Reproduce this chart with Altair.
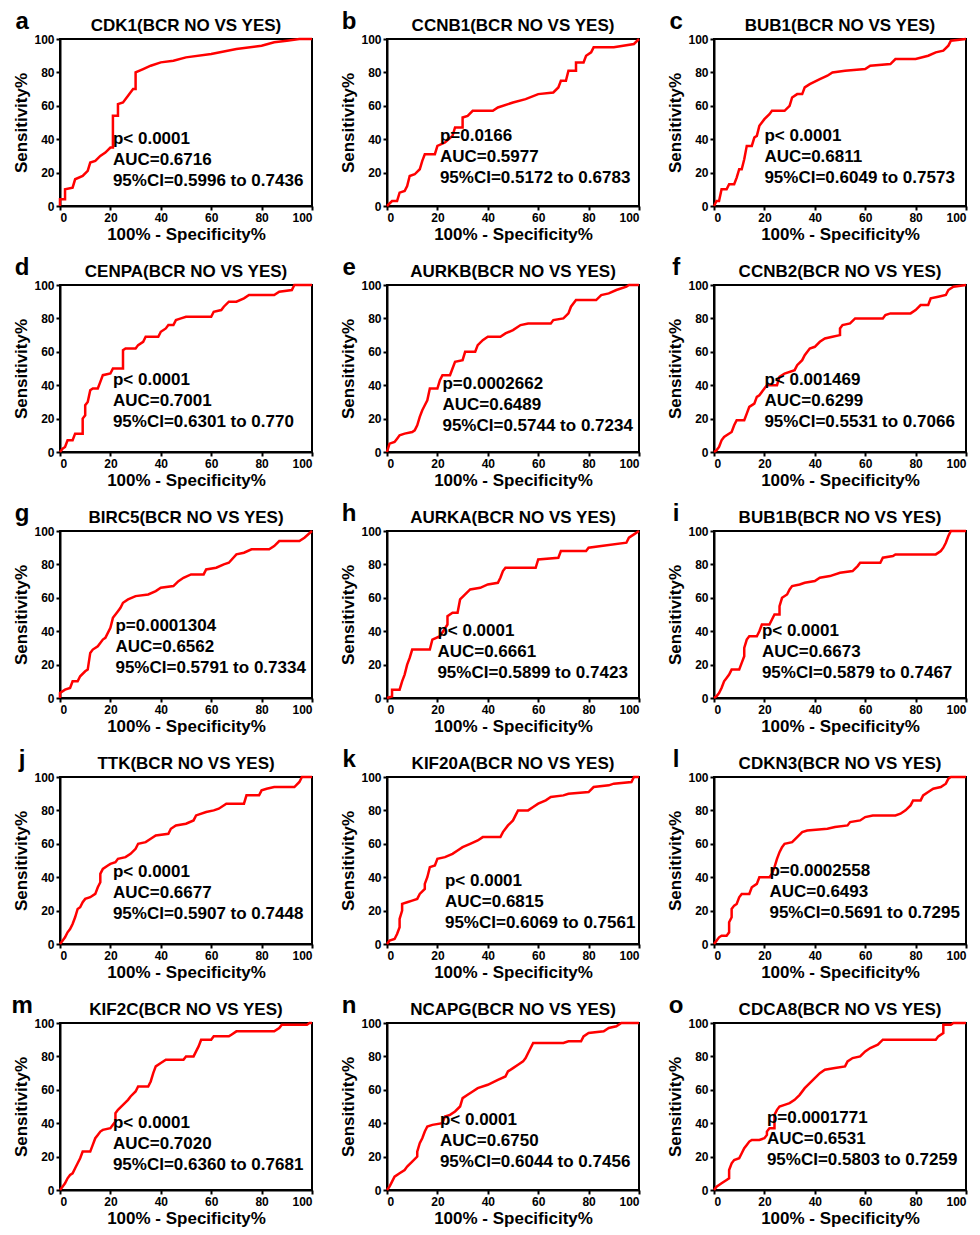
import altair as alt
import pandas as pd

FONT = "Liberation Sans"
RED = "#ff0000"

letters = list("abcdefghijklmno")
genes = ["CDK1", "CCNB1", "BUB1", "CENPA", "AURKB", "CCNB2", "BIRC5", "AURKA",
         "BUB1B", "TTK", "KIF20A", "CDKN3", "KIF2C", "NCAPG", "CDCA8"]
p_text = ["p< 0.0001", "p=0.0166", "p< 0.0001", "p< 0.0001", "p=0.0002662",
          "p< 0.001469", "p=0.0001304", "p< 0.0001", "p< 0.0001", "p< 0.0001",
          "p< 0.0001", "p=0.0002558", "p< 0.0001", "p< 0.0001", "p=0.0001771"]
auc_text = ["0.6716", "0.5977", "0.6811", "0.7001", "0.6489", "0.6299", "0.6562",
            "0.6661", "0.6673", "0.6677", "0.6815", "0.6493", "0.7020", "0.6750", "0.6531"]
ci_text = ["0.5996 to 0.7436", "0.5172 to 0.6783", "0.6049 to 0.7573", "0.6301 to 0.770",
           "0.5744 to 0.7234", "0.5531 to 0.7066", "0.5791 to 0.7334", "0.5899 to 0.7423",
           "0.5879 to 0.7467", "0.5907 to 0.7448", "0.6069 to 0.7561", "0.5691 to 0.7295",
           "0.6360 to 0.7681", "0.6044 to 0.7456", "0.5803 to 0.7259"]

# where the stats block starts, in axis units (x of left edge, y of first line)
note_x = [21, 21, 20, 21, 22, 20, 22, 20, 19, 21, 23, 22, 21, 21, 21]
note_y = [40, 42, 42, 43, 41, 43, 43, 40, 40, 43, 38, 44, 40, 42, 43]

# ROC curves, (100% - specificity, sensitivity)
cdk1 = [(0, 0), (0, 4), (2, 4), (2, 10), (5, 11), (6, 16), (9, 18), (11, 21), (12, 26), (14, 27),
        (16, 30), (18, 32), (20, 35), (21, 35), (21, 54), (23, 54), (23, 61), (25, 62), (27, 66),
        (29, 70), (30, 70), (30, 80), (33, 82), (36, 84), (40, 86), (45, 87), (50, 89), (60, 91),
        (70, 94), (80, 96), (85, 98), (90, 99), (95, 100), (100, 100)]
ccnb1 = [(0, 0), (2, 3), (4, 3), (5, 8), (7, 9), (8, 12), (9, 18), (11, 19), (13, 22), (14, 27),
         (15, 31), (19, 31), (20, 36), (23, 38), (26, 42), (27, 47), (30, 47), (30, 53), (32, 54),
         (34, 57), (42, 57), (44, 59), (50, 62), (55, 64), (60, 67), (66, 68), (68, 71), (69, 75),
         (71, 75), (72, 81), (75, 81), (75, 86), (78, 86), (79, 90), (81, 92), (82, 95), (90, 95),
         (98, 97), (100, 100)]
bub1 = [(0, 0), (1, 3), (2, 3), (3, 10), (5, 10), (6, 13), (8, 13), (9, 17), (10, 22), (11, 22),
        (12, 28), (13, 36), (15, 36), (16, 41), (17, 42), (18, 48), (19, 50), (20, 52), (22, 55),
        (23, 57), (28, 57), (30, 60), (31, 65), (33, 67), (35, 67), (36, 71), (38, 73), (42, 76),
        (45, 78), (47, 80), (52, 81), (60, 82), (62, 84), (70, 85), (72, 88), (80, 88), (85, 90),
        (88, 92), (91, 93), (93, 96), (94, 99), (100, 100)]
cenpa = [(0, 0), (1, 2), (2, 3), (3, 7), (5, 7), (6, 11), (9, 11), (9, 20), (10, 22), (10, 28),
         (11, 30), (12, 37), (13, 38), (15, 38), (16, 42), (17, 46), (20, 47), (21, 50), (25, 50),
         (25, 61), (26, 62), (30, 62), (31, 64), (33, 66), (34, 69), (39, 69), (40, 72), (42, 74),
         (43, 76), (45, 76), (46, 79), (48, 80), (50, 81), (60, 81), (61, 84), (64, 85), (65, 87),
         (67, 90), (70, 90), (73, 92), (75, 94), (85, 94), (87, 96), (92, 97), (93, 100), (100, 100)]
aurkb = [(0, 0), (1, 5), (3, 6), (4, 8), (5, 10), (7, 11), (10, 12), (11, 13), (12, 16), (13, 21),
         (14, 25), (15, 28), (16, 31), (17, 38), (20, 38), (21, 43), (22, 46), (25, 46), (26, 50),
         (27, 54), (30, 55), (31, 60), (35, 60), (36, 64), (38, 67), (40, 69), (45, 69), (47, 71),
         (50, 73), (53, 76), (56, 77), (65, 77), (66, 79), (70, 80), (72, 83), (73, 87), (75, 91),
         (83, 91), (85, 94), (88, 95), (91, 97), (95, 99), (96, 100), (100, 100)]
ccnb2 = [(0, 0), (1, 1), (2, 3), (3, 7), (4, 9), (5, 10), (7, 12), (8, 16), (9, 19), (12, 19),
         (13, 23), (14, 27), (16, 29), (17, 33), (18, 34), (20, 38), (21, 40), (25, 40), (26, 45),
         (28, 47), (32, 49), (33, 52), (35, 55), (36, 58), (38, 62), (40, 63), (42, 66), (44, 68),
         (47, 69), (50, 70), (50, 74), (51, 76), (54, 77), (56, 80), (67, 80), (68, 82), (70, 83),
         (78, 83), (80, 85), (82, 88), (85, 88), (86, 92), (89, 93), (92, 94), (93, 97), (95, 99),
         (100, 100)]
birc5 = [(0, 0), (0, 3), (2, 5), (4, 6), (5, 10), (7, 10), (8, 13), (10, 16), (11, 17), (12, 27),
         (13, 29), (15, 31), (17, 35), (18, 36), (20, 42), (21, 48), (23, 52), (24, 54), (25, 57),
         (27, 59), (30, 61), (35, 62), (38, 64), (40, 66), (45, 67), (47, 70), (49, 72), (52, 74),
         (57, 74), (58, 77), (62, 78), (65, 80), (67, 81), (70, 86), (73, 87), (76, 89), (83, 89),
         (85, 91), (87, 94), (95, 94), (97, 96), (100, 100)]
aurka = [(0, 0), (2, 1), (2, 5), (5, 5), (6, 10), (7, 14), (8, 20), (9, 24), (10, 29), (17, 29),
         (18, 35), (21, 37), (24, 44), (24, 49), (26, 51), (28, 51), (29, 59), (31, 62), (33, 65),
         (37, 66), (40, 68), (44, 69), (45, 72), (46, 76), (47, 78), (59, 78), (60, 83), (68, 84),
         (69, 88), (79, 88), (80, 90), (85, 91), (95, 93), (96, 96), (98, 98), (100, 100)]
bub1b = [(0, 0), (1, 1), (2, 3), (3, 6), (4, 10), (5, 12), (6, 14), (7, 17), (10, 17), (11, 21),
         (12, 25), (12, 30), (13, 35), (14, 37), (17, 37), (18, 40), (19, 44), (22, 44), (23, 47),
         (24, 50), (26, 50), (26, 55), (27, 60), (29, 62), (30, 65), (31, 67), (34, 68), (36, 69),
         (40, 70), (42, 72), (46, 73), (50, 75), (55, 76), (57, 79), (58, 81), (66, 81), (67, 84),
         (71, 85), (72, 86), (88, 86), (90, 88), (91, 90), (92, 93), (93, 97), (94, 100), (100, 100)]
ttk = [(0, 0), (1, 2), (2, 4), (3, 7), (4, 9), (5, 12), (6, 16), (7, 21), (8, 22), (9, 25),
       (10, 27), (12, 28), (14, 30), (15, 34), (16, 37), (16, 42), (17, 45), (19, 47), (20, 48),
       (22, 49), (23, 51), (26, 52), (28, 54), (30, 57), (31, 60), (34, 61), (36, 63), (38, 65),
       (43, 66), (44, 69), (46, 71), (50, 72), (53, 74), (54, 77), (58, 79), (61, 80), (63, 81),
       (66, 84), (73, 84), (74, 89), (79, 89), (80, 92), (82, 93), (85, 94), (93, 94), (95, 97),
       (96, 100), (100, 100)]
kif20a = [(0, 0), (1, 2), (3, 3), (4, 6), (5, 10), (5, 15), (6, 20), (6, 24), (8, 25), (10, 26),
          (12, 27), (13, 30), (15, 33), (15, 36), (16, 40), (17, 46), (19, 47), (20, 51), (23, 52),
          (26, 54), (28, 56), (30, 58), (33, 60), (36, 62), (38, 64), (45, 64), (46, 67), (48, 71),
          (50, 74), (51, 77), (52, 80), (56, 80), (58, 82), (60, 84), (63, 86), (65, 88), (70, 89),
          (72, 90), (80, 91), (82, 94), (88, 95), (90, 96), (97, 97), (98, 100), (100, 100)]
cdkn3 = [(0, 0), (1, 2), (2, 4), (3, 5), (5, 5), (6, 7), (6, 13), (7, 16), (7, 21), (8, 23),
         (9, 24), (10, 28), (11, 30), (14, 30), (15, 34), (17, 36), (18, 40), (22, 40), (23, 42),
         (24, 46), (25, 51), (26, 55), (27, 58), (28, 60), (31, 61), (33, 64), (35, 67), (37, 68),
         (45, 69), (48, 70), (53, 71), (54, 73), (58, 74), (60, 76), (63, 77), (72, 77), (74, 78),
         (76, 80), (78, 83), (79, 86), (82, 86), (83, 89), (85, 91), (87, 93), (90, 94), (92, 96),
         (93, 99), (94, 100), (100, 100)]
kif2c = [(0, 0), (1, 2), (2, 4), (3, 7), (4, 9), (5, 10), (6, 13), (7, 16), (8, 19), (9, 23),
         (12, 23), (13, 27), (14, 31), (15, 33), (16, 35), (17, 36), (20, 37), (21, 39), (22, 41),
         (22, 46), (23, 48), (25, 51), (27, 54), (28, 56), (30, 59), (31, 62), (35, 62), (36, 65),
         (37, 70), (38, 74), (40, 76), (42, 78), (49, 78), (50, 80), (53, 80), (54, 83), (55, 86),
         (56, 90), (60, 90), (61, 92), (67, 92), (68, 93), (70, 95), (85, 95), (87, 97), (88, 99),
         (98, 99), (99, 100), (100, 100)]
ncapg = [(0, 0), (1, 2), (2, 5), (3, 8), (5, 10), (7, 12), (8, 14), (10, 17), (12, 20), (12, 23),
         (13, 28), (14, 31), (15, 35), (16, 38), (18, 39), (22, 40), (23, 44), (25, 45), (27, 47),
         (29, 50), (30, 55), (32, 57), (34, 59), (36, 61), (40, 63), (44, 66), (47, 68), (48, 71),
         (50, 73), (52, 75), (54, 77), (55, 79), (56, 82), (57, 85), (58, 88), (70, 88), (72, 89),
         (77, 89), (78, 92), (80, 94), (86, 95), (88, 97), (91, 98), (93, 100), (100, 100)]
cdca8 = [(0, 0), (1, 2), (2, 3), (3, 4), (5, 6), (6, 7), (6, 12), (7, 16), (8, 18), (10, 19),
         (11, 22), (12, 25), (13, 27), (14, 29), (15, 30), (18, 30), (20, 31), (21, 33), (21, 35),
         (22, 37), (24, 37), (24, 45), (25, 48), (26, 50), (28, 51), (30, 52), (32, 54), (34, 57),
         (36, 61), (38, 64), (40, 67), (42, 70), (44, 72), (48, 73), (52, 74), (53, 77), (55, 79),
         (58, 80), (60, 83), (62, 85), (65, 87), (67, 90), (88, 90), (89, 92), (91, 94), (91, 99),
         (94, 99), (95, 100), (100, 100)]

curves = [cdk1, ccnb1, bub1, cenpa, aurkb, ccnb2, birc5, aurka, bub1b, ttk, kif20a, cdkn3,
          kif2c, ncapg, cdca8]

ticks = [0, 20, 40, 60, 80, 100]


def roc_panel(i: int) -> alt.LayerChart:
    x = alt.X("fpr:Q", title="100% - Specificity%",
              scale=alt.Scale(domain=[0, 100], nice=False),
              axis=alt.Axis(values=ticks))
    y = alt.Y("sens:Q", title="Sensitivity%",
              scale=alt.Scale(domain=[0, 100], nice=False),
              axis=alt.Axis(values=ticks))

    line = (
        alt.Chart(pd.DataFrame(curves[i], columns=["fpr", "sens"]))
        .mark_line(color=RED, strokeWidth=2.5, strokeJoin="miter")
        .encode(x=x, y=y)
    )

    gap = 12.6
    notes = pd.DataFrame({
        "fpr": [note_x[i]] * 3,
        "sens": [note_y[i], note_y[i] - gap, note_y[i] - 2 * gap],
        "txt": [p_text[i], f"AUC={auc_text[i]}", f"95%CI={ci_text[i]}"],
    })
    stats = (
        alt.Chart(notes)
        .mark_text(align="left", baseline="middle", font=FONT, fontSize=17,
                   fontWeight="bold", color="black")
        .encode(x=x, y=y, text="txt:N")
    )

    # gene title and panel letter sit just above the frame
    heads = pd.DataFrame({
        "fpr": [50, -15],
        "sens": [107.8, 106],
        "txt": [f"{genes[i]}(BCR NO VS YES)", letters[i]],
        "kind": ["title", "letter"],
    })
    title = (
        alt.Chart(heads).transform_filter(alt.datum.kind == "title")
        .mark_text(align="center", baseline="middle", font=FONT, fontSize=17,
                   fontWeight="bold", color="black")
        .encode(x=x, y=y, text="txt:N")
    )
    tag = (
        alt.Chart(heads).transform_filter(alt.datum.kind == "letter")
        .mark_text(align="center", baseline="alphabetic", font=FONT, fontSize=24,
                   fontWeight="bold", color="black")
        .encode(x=x, y=y, text="txt:N")
    )

    return alt.layer(line, stats, title, tag).properties(width=252, height=167)


chart = (
    alt.concat(*[roc_panel(i) for i in range(15)], columns=3,
               spacing={"row": 11, "column": 20})
    .properties(padding={"left": 2, "top": 0, "right": 0, "bottom": 0},
                background="white")
    .configure_view(stroke="black", strokeWidth=2)
    .configure_axis(
        grid=False,
        domainColor="black",
        domainWidth=2,
        tickColor="black",
        tickWidth=2,
        tickSize=4,
        labelFont=FONT,
        labelFontSize=12,
        labelFontWeight="bold",
        labelColor="black",
        labelPadding=2,
        titleFont=FONT,
        titleFontSize=17,
        titleFontWeight="bold",
        titleColor="black",
        titlePadding=3,
    )
)

chart.save("out.html", embed_options={"renderer": "svg", "actions": False})
